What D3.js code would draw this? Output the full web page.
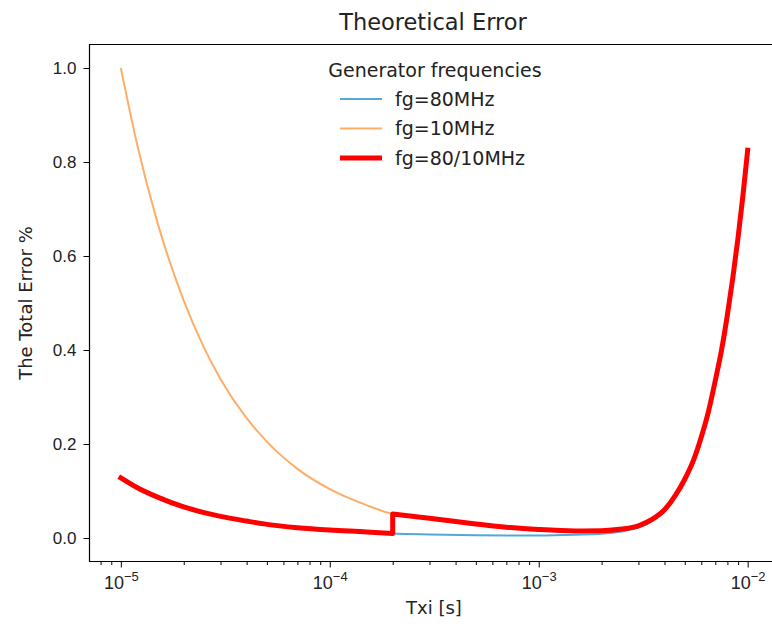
<!DOCTYPE html>
<html>
<head>
<meta charset="utf-8">
<script src="https://cdn.jsdelivr.net/npm/d3@7"></script>
<style>
  body { margin: 0; background: #fff; }
  svg { display: block; font-family: "DejaVu Sans", sans-serif; }
  .axis path, .axis line { stroke: #000; }
  .axis text { fill: #222; font-size: 17px; }
</style>
</head>
<body>
<svg id="chart" width="772" height="626"></svg>
<script>
// Theoretical error chart

// Txi sample points [s]
const txi = [1e-5, 1.2e-5, 1.5e-5, 2e-5, 2.5e-5, 3e-5, 4e-5, 5e-5, 7e-5, 1e-4, 1.5e-4, 2e-4,
  3e-4, 5e-4, 7e-4, 1e-3, 1.5e-3, 2e-3, 2.5e-3, 3e-3, 3.5e-3, 4e-3, 4.5e-3, 5e-3,
  5.5e-3, 6e-3, 6.5e-3, 7e-3, 7.5e-3, 8e-3, 8.5e-3, 9e-3, 9.5e-3, 1e-2];

// total error % for fg = 80 MHz
const err80 = [0.128, 0.107, 0.087, 0.066, 0.054, 0.046, 0.036, 0.029, 0.022, 0.017, 0.013, 0.0095,
  0.0075, 0.006, 0.0055, 0.0055, 0.007, 0.009, 0.014, 0.022, 0.036, 0.056, 0.086, 0.121,
  0.161, 0.211, 0.266, 0.331, 0.396, 0.471, 0.551, 0.636, 0.726, 0.821];

// total error % for fg = 10 MHz
const err10 = [1.0, 0.835, 0.67, 0.505, 0.405, 0.338, 0.255, 0.205, 0.147, 0.104, 0.07, 0.051,
  0.042, 0.03, 0.023, 0.018, 0.015, 0.0155, 0.019, 0.026, 0.04, 0.06, 0.09, 0.125,
  0.165, 0.215, 0.27, 0.335, 0.4, 0.475, 0.555, 0.64, 0.73, 0.825];

// switch point between the two generators
const switchTxi = 2e-4;

const xMajorTicks = [1e-5, 1e-4, 1e-3, 1e-2];
const yTicks = [0, 0.2, 0.4, 0.6, 0.8, 1.0];

const seriesInfo = [
  { label: 'fg=80MHz', color: '#52a9d8', width: 2 },
  { label: 'fg=10MHz', color: '#ffad66', width: 2 },
  { label: 'fg=80/10MHz', color: '#ff0000', width: 5 }
];

const svg = d3.select('#chart');
const margin = { top: 44.5, right: -7, bottom: 64.5, left: 89.5 };
const width = 772;
const height = 626;

const xScale = d3.scaleLog()
  .domain([Math.pow(10, -5.15), Math.pow(10, -1.85)])
  .range([margin.left, width - margin.right]);

const yScale = d3.scaleLinear()
  .domain([-0.05, 1.05])
  .range([height - margin.bottom, margin.top]);

// Build point lists
const pts80 = txi.map((t, i) => ({ x: t, y: err80[i] }));
const pts10 = txi.map((t, i) => ({ x: t, y: err10[i] }));
const lowPart = pts80.filter(d => d.x <= switchTxi);
const highPart = pts10.filter(d => d.x >= switchTxi);

const line = d3.line()
  .x(d => xScale(d.x))
  .y(d => yScale(d.y))
  .curve(d3.curveMonotoneX);

const plot = svg.append('g');

plot.append('path')
  .attr('d', line(pts80))
  .attr('fill', 'none')
  .attr('stroke', seriesInfo[0].color)
  .attr('stroke-width', seriesInfo[0].width);

plot.append('path')
  .attr('d', line(pts10))
  .attr('fill', 'none')
  .attr('stroke', seriesInfo[1].color)
  .attr('stroke-width', seriesInfo[1].width);

// combined curve: 80 MHz below the switch, 10 MHz above, joined by a vertical step
plot.append('path')
  .attr('d', line(lowPart) + line(highPart).replace(/^M/, 'L'))
  .attr('fill', 'none')
  .attr('stroke', seriesInfo[2].color)
  .attr('stroke-width', seriesInfo[2].width)
  .attr('stroke-linejoin', 'round')
  .attr('stroke-linecap', 'square');

// Axes
const x0 = margin.left, x1 = width - margin.right;
const y0 = height - margin.bottom, y1 = margin.top;

const minorTicks = [];
for (let e = -6; e <= -2; e++) {
  for (let m = 2; m <= 9; m++) {
    const v = m * Math.pow(10, e);
    if (v > xScale.domain()[0] && v < xScale.domain()[1]) minorTicks.push(v);
  }
}

svg.append('g')
  .attr('class', 'axis')
  .attr('transform', `translate(0,${y0})`)
  .call(d3.axisBottom(xScale).tickValues(minorTicks).tickSize(3.5).tickFormat(''))
  .call(g => g.select('.domain').remove());

const xAxis = svg.append('g')
  .attr('class', 'axis')
  .attr('transform', `translate(0,${y0})`)
  .call(d3.axisBottom(xScale).tickValues(xMajorTicks).tickSize(6).tickFormat(''))
  .call(g => g.select('.domain').remove());

xAxis.selectAll('.tick').append('text')
  .attr('y', 27)
  .attr('fill', '#222')
  .attr('text-anchor', 'middle')
  .style('font-size', '18px')
  .each(function(d) {
    const t = d3.select(this);
    t.append('tspan').text('10');
    t.append('tspan')
      .attr('dy', -8)
      .attr('font-size', '13px')
      .text('\u2212' + Math.round(-Math.log10(d)));
  });

svg.append('g')
  .attr('class', 'axis')
  .attr('transform', `translate(${x0},0)`)
  .call(d3.axisLeft(yScale).tickValues(yTicks).tickSize(6).tickPadding(7).tickFormat(d3.format('.1f')))
  .call(g => g.select('.domain').remove());

// spines
svg.append('path')
  .attr('d', `M${x1},${y1}H${x0}V${y0}H${x1}`)
  .attr('fill', 'none')
  .attr('stroke', '#000')
  .attr('stroke-width', 1.2);

// Title and labels
svg.append('text')
  .attr('x', 433)
  .attr('y', 30)
  .attr('text-anchor', 'middle')
  .attr('font-size', '22.5px')
  .attr('fill', '#222')
  .text('Theoretical Error');

svg.append('text')
  .attr('x', 434)
  .attr('y', 614)
  .attr('text-anchor', 'middle')
  .attr('font-size', '18px')
  .attr('fill', '#222')
  .text('Txi [s]');

svg.append('text')
  .attr('transform', `translate(32,${(y0 + y1) / 2}) rotate(-90)`)
  .attr('text-anchor', 'middle')
  .attr('font-size', '18px')
  .attr('fill', '#222')
  .text('The Total Error %');

// Legend
const legend = svg.append('g').attr('transform', 'translate(325, 0)');

legend.append('text')
  .attr('x', 110)
  .attr('y', 77)
  .attr('text-anchor', 'middle')
  .attr('font-size', '19px')
  .attr('fill', '#222')
  .text('Generator frequencies');

seriesInfo.forEach((s, i) => {
  const yy = 99 + i * 29.5;
  legend.append('line')
    .attr('x1', 15).attr('x2', 57)
    .attr('y1', yy).attr('y2', yy)
    .attr('stroke', s.color)
    .attr('stroke-width', s.width);
  legend.append('text')
    .attr('x', 70)
    .attr('y', yy + 6.5)
    .attr('font-size', '19px')
    .attr('fill', '#222')
    .text(s.label);
});
</script>
</body>
</html>
